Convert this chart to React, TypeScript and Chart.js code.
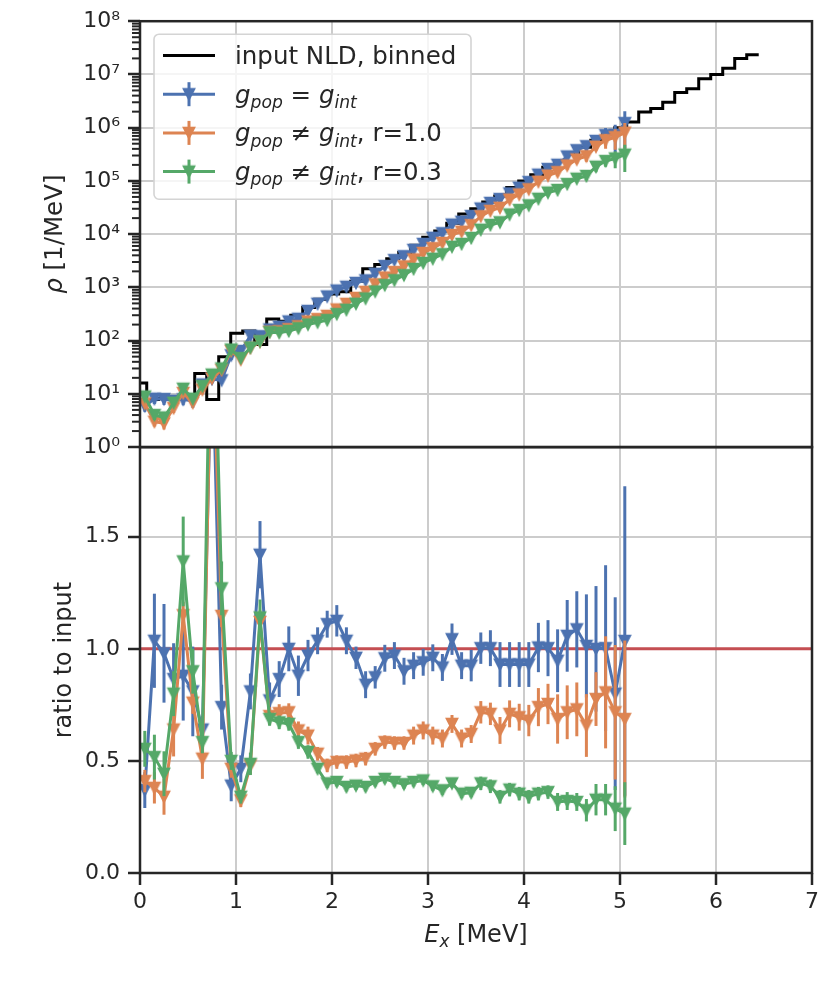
import { useEffect, useRef } from 'react';
import { Chart, registerables } from 'chart.js';

Chart.register(...registerables);

const FONT = '"DejaVu Sans", sans-serif';
const INK = '#262626';
const GRID = '#cccccc';
const BLUE = '#4c72b0';
const ORANGE = '#dd8452';
const GREEN = '#55a868';
const RED = '#c44e52';

// excitation energy of the unfolded points [MeV]
const energies = Array.from({ length: 51 }, (_, i) => Math.round((0.05 + 0.1 * i) * 100) / 100);

// input NLD, binned: 0.125 MeV bins starting at -0.055 MeV
const nldBinStart = -0.055;
const nldBinWidth = 0.125;
const nldValues = [
  16, 7.8, 8.2, 8.5, 9, 24, 7.8, 50, 137, 152,
  85, 255, 230, 300, 420, 600, 750, 830, 1300, 2240,
  2700, 3450, 4500, 6200, 8700, 1.15e4, 1.6e4, 2.4e4, 3.0e4, 4.0e4,
  5.2e4, 7.5e4, 1.0e5, 1.3e5, 1.8e5, 2.4e5, 3.2e5, 4.3e5, 5.8e5, 7.5e5,
  1.0e6, 1.28e6, 1.96e6, 2.3e6, 3.0e6, 4.6e6, 5.4e6, 8.3e6, 1.0e7, 1.3e7, 2.0e7, 2.35e7,
];

// rho [1/MeV]
const rhoSame = [
  5.9, 8.1, 8.0, 7.4, 7.9, 7.3, 15, 19, 18, 53,
  64, 123, 121, 162, 182, 229, 257, 362, 493, 675,
  873, 1026, 1213, 1355, 1800, 2518, 3258, 3855, 5058, 6561,
  8551, 1.04e4, 1.51e4, 1.71e4, 2.19e4, 3.03e4, 3.86e4, 4.57e4, 5.83e4, 7.45e4,
  9.5e4, 1.31e5, 1.67e5, 2.01e5, 2.88e5, 3.77e5, 4.49e5, 5.65e5, 7.23e5, 7.36e5, 1.22e6,
];
const rhoR10 = [
  6.6, 3.0, 2.8, 5.4, 10.4, 6.8, 12, 19.5, 28, 64,
  44, 73, 95, 147, 150, 164, 186, 229, 254, 292,
  385, 491, 635, 824, 1143, 1535, 1945, 2483, 3350, 4436,
  5458, 6823, 9660, 1.11e4, 1.47e4, 2.17e4, 2.74e4, 3.13e4, 4.46e4, 5.57e4,
  6.97e4, 9.66e4, 1.26e5, 1.46e5, 1.95e5, 2.53e5, 2.91e5, 4.39e5, 5.81e5, 6.61e5, 8.07e5,
];
const rhoR03 = [
  8.9, 4.0, 3.6, 6.8, 12.5, 8.1, 14, 23, 30, 68,
  47, 74, 97, 144, 141, 152, 171, 201, 221, 243,
  315, 380, 493, 619, 838, 1104, 1365, 1698, 2223, 2884,
  3451, 4198, 5808, 6561, 8470, 1.21e4, 1.49e4, 1.67e4, 2.34e4, 2.84e4,
  3.48e4, 4.62e4, 6.03e4, 6.75e4, 8.73e4, 1.1e5, 1.24e5, 1.85e5, 2.36e5, 2.64e5, 3.11e5,
];

// ratio to input and its uncertainty
const ratioSame = [
  0.37, 1.036, 0.98, 0.865, 0.88, 0.81, 0.64, 2.4, 0.74, 0.39,
  0.465, 0.81, 1.42, 0.77, 0.865, 1.0, 0.88, 0.97, 1.036, 1.11,
  1.125, 1.036, 0.96, 0.84, 0.873, 0.958, 0.97, 0.9, 0.925, 0.94,
  0.96, 0.917, 1.043, 0.925, 0.925, 1.003, 1.003, 0.93, 0.93, 0.93,
  0.93, 1.006, 1.003, 0.947, 1.058, 1.087, 1.013, 1.0, 1.003, 0.8, 1.035,
];
const errSame = [
  0.08, 0.21, 0.22, 0.16, 0.2, 0.2, 0.06, 0.1, 0.1, 0.07,
  0.06, 0.08, 0.15, 0.08, 0.08, 0.1, 0.09, 0.07, 0.06, 0.06,
  0.07, 0.06, 0.05, 0.06, 0.05, 0.06, 0.06, 0.06, 0.06, 0.06,
  0.06, 0.06, 0.07, 0.06, 0.07, 0.07, 0.08, 0.1, 0.1, 0.1,
  0.1, 0.11, 0.125, 0.14, 0.16, 0.17, 0.23, 0.28, 0.37, 0.43, 0.69,
];
const ratioR10 = [
  0.41, 0.38, 0.34, 0.64, 1.15, 0.76, 0.51, 2.5, 1.147, 0.465,
  0.324, 0.48, 1.12, 0.7, 0.713, 0.717, 0.636, 0.613, 0.532, 0.48,
  0.495, 0.495, 0.502, 0.51, 0.554, 0.584, 0.58, 0.58, 0.613, 0.636,
  0.613, 0.6, 0.665, 0.6, 0.62, 0.717, 0.71, 0.636, 0.71, 0.695,
  0.68, 0.74, 0.754, 0.687, 0.717, 0.73, 0.658, 0.776, 0.806, 0.717, 0.687,
];
const errR10 = [
  0.05, 0.07, 0.08, 0.12, 0.06, 0.05, 0.09, 0.1, 0.05, 0.04,
  0.03, 0.04, 0.05, 0.04, 0.04, 0.04, 0.04, 0.04, 0.03, 0.03,
  0.03, 0.03, 0.03, 0.03, 0.03, 0.03, 0.03, 0.03, 0.04, 0.04,
  0.04, 0.04, 0.04, 0.04, 0.04, 0.05, 0.05, 0.06, 0.06, 0.06,
  0.07, 0.085, 0.09, 0.11, 0.12, 0.12, 0.14, 0.12, 0.25, 0.3, 0.35,
];
const ratioR03 = [
  0.554, 0.517, 0.443, 0.8, 1.39, 0.9, 0.584, 2.9, 1.27, 0.5,
  0.34, 0.487, 1.14, 0.687, 0.672, 0.665, 0.584, 0.54, 0.465, 0.4,
  0.406, 0.384, 0.39, 0.384, 0.406, 0.42, 0.406, 0.396, 0.406, 0.413,
  0.387, 0.369, 0.4, 0.354, 0.358, 0.4, 0.387, 0.34, 0.372, 0.354,
  0.34, 0.354, 0.361, 0.317, 0.321, 0.317, 0.28, 0.327, 0.327, 0.287, 0.265,
];
const errR03 = [
  0.08, 0.1, 0.1, 0.1, 0.2, 0.1, 0.05, 0.2, 0.12, 0.04,
  0.03, 0.05, 0.08, 0.03, 0.03, 0.03, 0.03, 0.03, 0.02, 0.02,
  0.02, 0.02, 0.02, 0.02, 0.02, 0.02, 0.02, 0.02, 0.02, 0.02,
  0.02, 0.02, 0.02, 0.02, 0.02, 0.03, 0.03, 0.03, 0.03, 0.03,
  0.03, 0.03, 0.03, 0.04, 0.04, 0.04, 0.05, 0.07, 0.07, 0.1, 0.14,
];

const decadeTicks = [1, 10, 1e2, 1e3, 1e4, 1e5, 1e6, 1e7, 1e8];
const ratioTicks = [0, 0.5, 1.0, 1.5];
const energyTicks = [0, 1, 2, 3, 4, 5, 6, 7];

type Part = { t: string; it?: boolean; sub?: boolean };

const runs: { color: string; rho: number[]; ratio: number[]; err: number[]; label: Part[] }[] = [
  {
    color: BLUE, rho: rhoSame, ratio: ratioSame, err: errSame,
    label: [{ t: 'g', it: true }, { t: 'pop', it: true, sub: true }, { t: ' = ' }, { t: 'g', it: true }, { t: 'int', it: true, sub: true }],
  },
  {
    color: ORANGE, rho: rhoR10, ratio: ratioR10, err: errR10,
    label: [{ t: 'g', it: true }, { t: 'pop', it: true, sub: true }, { t: ' ≠ ' }, { t: 'g', it: true }, { t: 'int', it: true, sub: true }, { t: ', r=1.0' }],
  },
  {
    color: GREEN, rho: rhoR03, ratio: ratioR03, err: errR03,
    label: [{ t: 'g', it: true }, { t: 'pop', it: true, sub: true }, { t: ' ≠ ' }, { t: 'g', it: true }, { t: 'int', it: true, sub: true }, { t: ', r=0.3' }],
  },
];

const SUP = ['⁰', '¹', '²', '³', '⁴', '⁵', '⁶', '⁷', '⁸', '⁹'];

function drawRich(ctx: CanvasRenderingContext2D, parts: Part[], x: number, y: number, size: number, align: 'left' | 'center') {
  const fontFor = (p: Part) => `${p.it ? 'italic ' : ''}${p.sub ? size * 0.7 : size}px ${FONT}`;
  let w = 0;
  for (const p of parts) {
    ctx.font = fontFor(p);
    w += ctx.measureText(p.t).width;
  }
  let cx = align === 'center' ? x - w / 2 : x;
  ctx.textAlign = 'left';
  ctx.textBaseline = 'alphabetic';
  for (const p of parts) {
    ctx.font = fontFor(p);
    ctx.fillText(p.t, cx, p.sub ? y + size * 0.22 : y);
    cx += ctx.measureText(p.t).width;
  }
}

// matplotlib-like 'v' marker
function makeMarker(color: string) {
  const c = document.createElement('canvas');
  c.width = 16;
  c.height = 16;
  const g = c.getContext('2d')!;
  g.fillStyle = color;
  g.strokeStyle = color;
  g.lineWidth = 1.5;
  g.lineJoin = 'miter';
  g.beginPath();
  g.moveTo(2.3, 2.5);
  g.lineTo(13.7, 2.5);
  g.lineTo(8, 13.6);
  g.closePath();
  g.fill();
  g.stroke();
  return c;
}

const panelPlugin = {
  id: 'panels',
  beforeDatasetDraw(chart: any, args: any) {
    const ds = chart.data.datasets[args.index];
    const xs = chart.scales.x;
    const ys = chart.scales[ds.yAxisID];
    const ctx: CanvasRenderingContext2D = chart.ctx;
    ctx.save();
    ctx.beginPath();
    ctx.rect(xs.left, ys.top, xs.right - xs.left, ys.bottom - ys.top);
    ctx.clip();
    if (ds.bars) {
      ctx.strokeStyle = ds.borderColor;
      ctx.lineWidth = 3;
      ds.bars.forEach((b: { lo: number; hi: number }, i: number) => {
        const px = xs.getPixelForValue(ds.data[i].x);
        ctx.beginPath();
        ctx.moveTo(px, ys.getPixelForValue(b.lo));
        ctx.lineTo(px, ys.getPixelForValue(b.hi));
        ctx.stroke();
      });
    }
  },
  afterDatasetDraw(chart: any) {
    chart.ctx.restore();
  },
  afterDatasetsDraw(chart: any) {
    const ctx: CanvasRenderingContext2D = chart.ctx;
    const xs = chart.scales.x;
    const yt = chart.scales.yTop;
    const yb = chart.scales.yBot;
    ctx.save();
    ctx.strokeStyle = INK;
    // minor log ticks
    ctx.lineWidth = 2;
    for (let d = 0; d < 8; d++) {
      for (let m = 2; m < 10; m++) {
        const py = yt.getPixelForValue(m * Math.pow(10, d));
        ctx.beginPath();
        ctx.moveTo(xs.left - 8, py);
        ctx.lineTo(xs.left, py);
        ctx.stroke();
      }
    }
    ctx.lineWidth = 2.5;
    ctx.strokeRect(xs.left, yt.top, xs.right - xs.left, yt.bottom - yt.top);
    ctx.strokeRect(xs.left, yb.top, xs.right - xs.left, yb.bottom - yb.top);
    ctx.restore();
  },
  afterDraw(chart: any) {
    const ctx: CanvasRenderingContext2D = chart.ctx;
    const xs = chart.scales.x;
    const yt = chart.scales.yTop;
    const yb = chart.scales.yBot;
    ctx.save();
    ctx.fillStyle = INK;
    // axis titles
    drawRich(ctx, [{ t: 'E', it: true }, { t: 'x', it: true, sub: true }, { t: ' [MeV]' }], (xs.left + xs.right) / 2, 942, 24, 'center');
    ctx.save();
    ctx.translate(62, (yt.top + yt.bottom) / 2);
    ctx.rotate(-Math.PI / 2);
    drawRich(ctx, [{ t: 'ρ', it: true }, { t: ' [1/MeV]' }], 0, 0, 24.5, 'center');
    ctx.restore();
    ctx.save();
    ctx.translate(71, (yb.top + yb.bottom) / 2);
    ctx.rotate(-Math.PI / 2);
    drawRich(ctx, [{ t: 'ratio to input' }], 0, 0, 24, 'center');
    ctx.restore();

    // legend
    const bx = xs.left + 14;
    const by = yt.top + 13;
    const bw = 317;
    const bh = 165;
    ctx.beginPath();
    ctx.roundRect(bx, by, bw, bh, 5);
    ctx.fillStyle = 'rgba(255,255,255,0.8)';
    ctx.fill();
    ctx.strokeStyle = '#d4d4d4';
    ctx.lineWidth = 1.6;
    ctx.stroke();

    const rows: { color: string; label: Part[]; marker: boolean }[] = [
      { color: '#000000', label: [{ t: 'input NLD, binned' }], marker: false },
      ...runs.map((r) => ({ color: r.color, label: r.label, marker: true })),
    ];
    rows.forEach((row, k) => {
      const cy = by + 21.3 + 38.7 * k;
      const hx0 = bx + 9;
      const hx1 = bx + 61;
      const hc = (hx0 + hx1) / 2;
      ctx.strokeStyle = row.color;
      ctx.lineWidth = 3;
      ctx.beginPath();
      ctx.moveTo(hx0, cy);
      ctx.lineTo(hx1, cy);
      ctx.stroke();
      if (row.marker) {
        ctx.beginPath();
        ctx.moveTo(hc, cy - 12);
        ctx.lineTo(hc, cy + 12);
        ctx.stroke();
        ctx.drawImage(makeMarker(row.color), hc - 8, cy - 8);
      }
      ctx.fillStyle = INK;
      drawRich(ctx, row.label, bx + 81, cy + 8.5, 24.5, 'left');
    });
    ctx.restore();
  },
};

function App() {
  const canvasRef = useRef<HTMLCanvasElement | null>(null);

  useEffect(() => {
    if (!canvasRef.current) return;

    const nldPoints = nldValues.map((v, k) => ({ x: nldBinStart + nldBinWidth * k, y: v }));
    nldPoints.push({ x: nldBinStart + nldBinWidth * nldValues.length, y: nldValues[nldValues.length - 1] });

    const markerStyle = (color: string) => ({
      borderColor: color,
      backgroundColor: color,
      borderWidth: 3,
      pointStyle: makeMarker(color),
      pointRadius: 7,
    });

    const datasets: any[] = [
      {
        yAxisID: 'yTop',
        data: nldPoints,
        borderColor: '#000000',
        borderWidth: 3,
        pointRadius: 0,
        stepped: 'before',
        order: 10,
      },
      {
        yAxisID: 'yBot',
        data: [{ x: 0, y: 1 }, { x: 7, y: 1 }],
        borderColor: RED,
        borderWidth: 3,
        pointRadius: 0,
        order: 10,
      },
    ];
    runs.forEach((r, s) => {
      datasets.push({
        yAxisID: 'yTop',
        data: energies.map((e, i) => ({ x: e, y: r.rho[i] })),
        bars: r.rho.map((v, i) => {
          const rel = r.err[i] / r.ratio[i];
          return { lo: Math.max(v * (1 - rel), 1e-3), hi: v * (1 + rel) };
        }),
        order: 3 - s,
        ...markerStyle(r.color),
      });
      datasets.push({
        yAxisID: 'yBot',
        data: energies.map((e, i) => ({ x: e, y: r.ratio[i] })),
        bars: r.ratio.map((v, i) => ({ lo: v - r.err[i], hi: v + r.err[i] })),
        order: 3 - s,
        ...markerStyle(r.color),
      });
    });

    const tickFont = { family: FONT, size: 22 };
    const gridStyle = { color: GRID, lineWidth: 2, tickColor: INK, tickLength: 12, tickWidth: 2.5 };

    const chart = new Chart(canvasRef.current, {
      type: 'line',
      data: { datasets },
      options: {
        animation: false,
        responsive: false,
        events: [],
        layout: { padding: { left: 0, top: 18, right: 18, bottom: 0 } },
        plugins: { legend: { display: false }, tooltip: { enabled: false } },
        scales: {
          x: {
            type: 'linear',
            min: 0,
            max: 7,
            afterFit: (s: any) => { s.height = 108; },
            afterBuildTicks: (s: any) => { s.ticks = energyTicks.map((v) => ({ value: v })); },
            ticks: { font: tickFont, color: INK, padding: 4, callback: (v: any) => String(v) },
            grid: gridStyle,
            border: { display: false },
          },
          yBot: {
            type: 'linear',
            position: 'left',
            stack: 'panels',
            stackWeight: 1,
            min: 0,
            max: 1.9,
            afterFit: (s: any) => { s.width = 140; },
            afterBuildTicks: (s: any) => { s.ticks = ratioTicks.map((v) => ({ value: v })); },
            ticks: { font: tickFont, color: INK, padding: 8, callback: (v: any) => Number(v).toFixed(1) },
            grid: gridStyle,
            border: { display: false },
          },
          yTop: {
            type: 'logarithmic',
            position: 'left',
            stack: 'panels',
            stackWeight: 1,
            min: 1,
            max: 1e8,
            afterFit: (s: any) => { s.width = 140; },
            afterBuildTicks: (s: any) => { s.ticks = decadeTicks.map((v) => ({ value: v })); },
            ticks: {
              font: tickFont,
              color: INK,
              padding: 8,
              callback: (v: any) => '10' + SUP[Math.round(Math.log10(Number(v)))],
            },
            grid: gridStyle,
            border: { display: false },
          },
        },
      } as any,
      plugins: [panelPlugin],
    });

    return () => {
      chart.destroy();
    };
  }, []);

  return (
    <div style={{ position: 'absolute', left: 0, top: 0, width: 830, height: 981, background: '#ffffff' }}>
      <canvas ref={canvasRef} width={830} height={981} />
    </div>
  );
}

export default App;
